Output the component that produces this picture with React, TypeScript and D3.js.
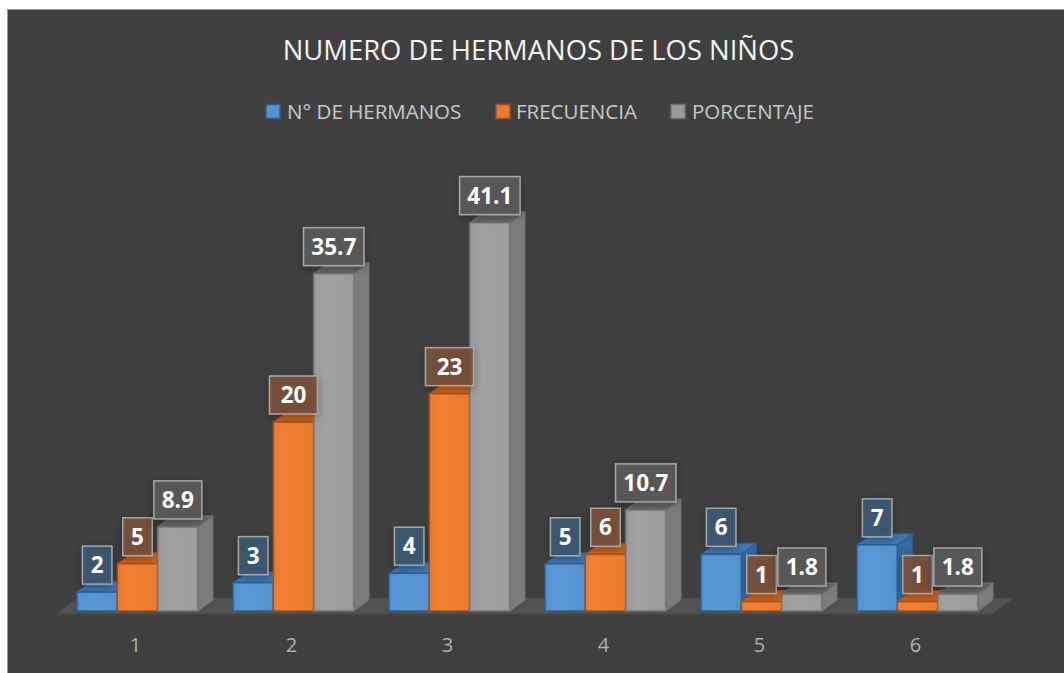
import React from 'react';
import * as d3 from 'd3';

const categories = ['1', '2', '3', '4', '5', '6'];
const hermanos = [2, 3, 4, 5, 6, 7];
const frecuencia = [5, 20, 23, 6, 1, 1];
const porcentaje = [8.9, 35.7, 41.1, 10.7, 1.8, 1.8];
const seriesNames = ['N° DE HERMANOS', 'FRECUENCIA', 'PORCENTAJE'];
const seriesValues = [hermanos, frecuencia, porcentaje];
const title = 'NUMERO DE HERMANOS DE LOS NIÑOS';

const palette = [
  { front: '#5592cf', stroke: '#2d5f96', top: '#3e77b2', side: '#3669a0', label: '#3e5874' },
  { front: '#e97b30', stroke: '#a94f15', top: '#c8621f', side: '#b0571b', label: '#7a5039' },
  { front: '#9b9b9b', stroke: '#727272', top: '#676767', side: '#7c7c7c', label: '#5a5a5a' },
];

const W = 1064;
const H = 673;
const DX = 15;
const DY = -11;
const FDX = 20;
const FDY = -15;

export default function App() {
  const x0 = d3
    .scaleBand<string>()
    .domain(categories)
    .range([59.5, 995.5])
    .paddingInner(0.2244)
    .paddingOuter(0.1122);
  const x1 = d3
    .scaleBand<string>()
    .domain(seriesNames)
    .range([0, x0.bandwidth()])
    .padding(0);
  const y = d3.scaleLinear().domain([0, 45]).range([611, 611 - 45 * 9.45]);

  const floorL = x0.range()[0] - 2;
  const floorR = x0.range()[1] - 2;
  const floorY = 613;

  const bars: React.ReactNode[] = [];
  const labels: React.ReactNode[] = [];
  categories.forEach((c, ci) => {
    seriesNames.forEach((s, si) => {
      const v = seriesValues[si][ci];
      const xl = (x0(c) as number) + (x1(s) as number);
      const w = x1.bandwidth();
      const yt = y(v);
      const yb = y(0);
      const p = palette[si];
      const topPts = [
        [xl, yt],
        [xl + w, yt],
        [xl + w + DX, yt + DY],
        [xl + DX, yt + DY],
      ];
      const sidePts = [
        [xl + w, yt],
        [xl + w + DX, yt + DY],
        [xl + w + DX, yb + DY],
        [xl + w, yb],
      ];
      bars.push(
        <g key={`b-${ci}-${si}`}>
          <polygon points={sidePts.map((q) => q.join(',')).join(' ')} fill={p.side} stroke={p.stroke} strokeWidth={1} strokeLinejoin="round" />
          <polygon points={topPts.map((q) => q.join(',')).join(' ')} fill={p.top} stroke={p.stroke} strokeWidth={1} strokeLinejoin="round" />
          <rect x={xl} y={yt} width={w} height={yb - yt} fill={`url(#grad${si})`} stroke={p.stroke} strokeWidth={1.5} />
        </g>
      );
      const txt = String(v);
      const tw = txt.length === 1 ? 12.5 : txt.replace('.', '').length * 12.5 + 6;
      const bw = tw + 17;
      const bh = 38;
      const cx = xl + w / 2;
      const by = yt - 8 - bh;
      labels.push(
        <g key={`l-${ci}-${si}`}>
          <rect x={cx - bw / 2} y={by} width={bw} height={bh} fill={p.label} fillOpacity={0.92} stroke="#a6a6a6" strokeWidth={1.5} filter="url(#shadow)" />
          <text x={cx} y={by + bh / 2 + 8} textAnchor="middle" fontFamily="'Open Sans', sans-serif" fontWeight={700} fontSize={22.5} fill="#ffffff">
            {txt}
          </text>
        </g>
      );
    });
  });

  const legendItems = [
    { sq: 266, tx: 287 },
    { sq: 496, tx: 516 },
    { sq: 671, tx: 692 },
  ];

  return (
    <svg width={W} height={H} style={{ position: 'absolute', left: 0, top: 0 }}>
      <defs>
        {palette.map((p, i) => (
          <linearGradient key={i} id={`grad${i}`} x1="0" x2="1" y1="0" y2="0">
            <stop offset="0" stopColor={p.front} />
            <stop offset="0.3" stopColor={d3.color(p.front)!.brighter(0.12).formatHex()} />
            <stop offset="1" stopColor={p.front} />
          </linearGradient>
        ))}
        <filter id="shadow" x="-30%" y="-30%" width="160%" height="160%">
          <feDropShadow dx="0" dy="2" stdDeviation="4" floodColor="#000" floodOpacity="0.35" />
        </filter>
      </defs>
      <rect x={0} y={0} width={W} height={H} fill="#ffffff" />
      <rect x={7.5} y={9.5} width={W} height={H} fill="#404040" stroke="#9a9a9a" strokeWidth={1} />
      <text x={538.5} y={60} textAnchor="middle" fontFamily="'Open Sans', sans-serif" fontSize={27.4} fill="#f2f2f2">
        {title}
      </text>
      {seriesNames.map((s, i) => (
        <g key={s}>
          <rect x={legendItems[i].sq} y={104.5} width={14} height={14} fill={palette[i].front} stroke={palette[i].stroke} strokeWidth={1.5} />
          <text x={legendItems[i].tx} y={119} fontFamily="'Open Sans', sans-serif" fontSize={20.5} fill="#c8c8c8">
            {s}
          </text>
        </g>
      ))}
      <polygon
        points={[
          [floorL, floorY],
          [floorR, floorY],
          [floorR + FDX, floorY + FDY],
          [floorL + FDX, floorY + FDY],
        ]
          .map((q) => q.join(','))
          .join(' ')}
        fill="#525252"
      />
      <rect x={floorL} y={floorY} width={floorR - floorL} height={1.5} fill="#4a4a4a" />
      {bars}
      {labels}
      {categories.map((c) => (
        <text
          key={c}
          x={(x0(c) as number) + x0.bandwidth() / 2 - 2}
          y={652}
          textAnchor="middle"
          fontFamily="'Open Sans', sans-serif"
          fontSize={20}
          fill="#b0b0b0"
        >
          {c}
        </text>
      ))}
    </svg>
  );
}
